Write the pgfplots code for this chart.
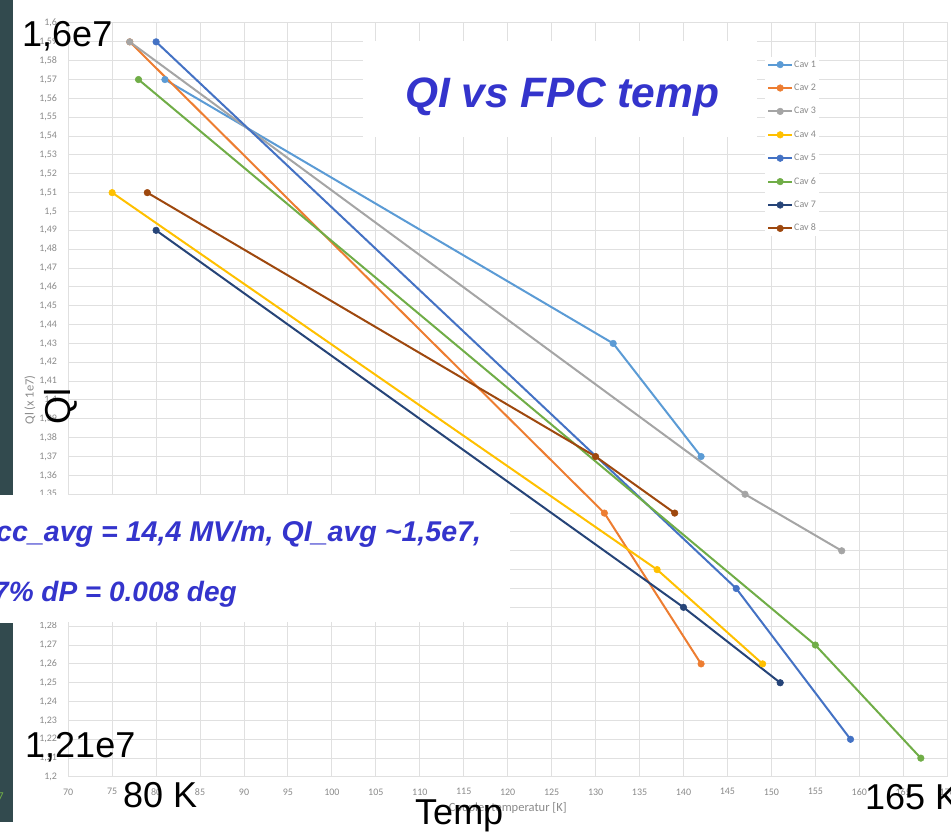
\documentclass[border=0pt]{standalone}
\usepackage{fontspec}
\setmainfont{Carlito}
\newfontfamily\arialf{Liberation Sans}
\usepackage{pgfplots}
\pgfplotsset{compat=1.18}

\definecolor{cavA}{HTML}{5B9BD5}
\definecolor{cavB}{HTML}{ED7D31}
\definecolor{cavC}{HTML}{A5A5A5}
\definecolor{cavD}{HTML}{FFC000}
\definecolor{cavE}{HTML}{4472C4}
\definecolor{cavF}{HTML}{70AD47}
\definecolor{cavG}{HTML}{264478}
\definecolor{cavH}{HTML}{9E480E}
\definecolor{gridc}{HTML}{E0E0E0}
\definecolor{lblc}{HTML}{8A8A8A}
\definecolor{bluet}{RGB}{52,52,204}
\definecolor{slide}{RGB}{50,74,78}

\begin{document}
\begin{tikzpicture}[x=1pt,y=1pt]
\useasboundingbox (0,0) rectangle (951,837);
% slide background strip on the left
\fill[slide] (0,342) rectangle (13,837);
\fill[slide] (0,15) rectangle (13,214);
\node[anchor=base east, inner sep=0pt, text=cavF, font=\fontsize{12}{12}\selectfont] at (4,36) {7};

\begin{axis}[
    at={(68.2pt,60pt)}, anchor=south west,
    scale only axis, width=879pt, height=754pt,
    xmin=70, xmax=170, ymin=1.2, ymax=1.6,
    xtick={70,75,...,170},
    ytick={1.2,1.21,...,1.601},
    grid=major,
    major grid style={draw=gridc, line width=1pt},
    axis line style={draw=gridc, line width=1pt},
    major tick length=0pt,
    /pgf/number format/assume math mode=true,
    tick label style={font=\fontsize{10}{12}\selectfont, text=lblc},
    yticklabel style={/pgf/number format/use comma, /pgf/number format/precision=2, xshift=-7.7pt},
    xticklabel style={yshift=-8pt},
    xlabel={Coupler temperatur [K]},
    ylabel={Ql (x 1e7)},
    every axis x label/.style={at={(axis description cs:0.5,-0.0411)}, anchor=center,
        font=\fontsize{12.5}{14}\selectfont, text=lblc},
    every axis y label/.style={at={(axis description cs:-0.0435,0.5)}, rotate=90, anchor=center,
        font=\fontsize{12.5}{14}\selectfont, text=lblc},
    every axis plot/.append style={line width=2pt, mark=*, mark size=3.3pt, mark options={line width=0.5pt}},
    legend cell align=left,
    legend image code/.code={\draw[#1,mark repeat=2,mark phase=2] plot coordinates {(0pt,0pt) (12pt,0pt) (24pt,0pt)};},
    legend style={at={(axis description cs:0.7927,0.955)}, anchor=north west,
        draw=none, fill=white, font=\fontsize{10}{11}\selectfont, text=lblc,
        row sep=12.4pt, inner xsep=2pt, inner ysep=2pt,
        nodes={inner sep=1pt, text height=7pt, text depth=2pt}},
]
\addplot[cavA] coordinates {(81,1.57) (132,1.43) (142,1.37)};
\addlegendentry{Cav 1}
\addplot[cavB] coordinates {(77,1.59) (131,1.34) (142,1.26)};
\addlegendentry{Cav 2}
\addplot[cavC] coordinates {(77,1.59) (147,1.35) (158,1.32)};
\addlegendentry{Cav 3}
\addplot[cavD] coordinates {(75,1.51) (137,1.31) (149,1.26)};
\addlegendentry{Cav 4}
\addplot[cavE] coordinates {(80,1.59) (146,1.30) (159,1.22)};
\addlegendentry{Cav 5}
\addplot[cavF] coordinates {(78,1.57) (155,1.27) (167,1.21)};
\addlegendentry{Cav 6}
\addplot[cavG] coordinates {(80,1.49) (140,1.29) (151,1.25)};
\addlegendentry{Cav 7}
\addplot[cavH] coordinates {(79,1.51) (130,1.37) (139,1.34)};
\addlegendentry{Cav 8}
\end{axis}

% title box
\fill[white] (363,700) rectangle (757,796);
\node[anchor=base west, inner sep=0pt, text=bluet, font=\arialf\bfseries\itshape\fontsize{42.5}{44}\selectfont] at (405,729) {QI vs FPC temp};

% lower text box
\fill[white] (0,215) rectangle (510,342);
\node[anchor=base west, inner sep=0pt, text=bluet, font=\arialf\bfseries\itshape\fontsize{28.6}{30}\selectfont] at (-4,295) {cc\_avg = 14,4 MV/m, QI\_avg \textasciitilde1,5e7,};
\node[anchor=base west, inner sep=0pt, text=bluet, font=\arialf\bfseries\itshape\fontsize{28}{30}\selectfont] at (-7,235) {7\% dP = 0.008 deg};

% large black annotations
\begin{scope}[every node/.style={inner sep=0pt, text=black, font=\arialf\fontsize{36}{38}\selectfont}]
\node[anchor=base west] at (22,790) {1,6e7};
\node[anchor=base west] at (25,79) {1,21e7};
\node[anchor=base west] at (123,29) {80 K};
\node[anchor=base west] at (865,27) {165 K};
\node[anchor=base west] at (415,12) {Temp};
\node[anchor=base west, rotate=90] at (70,412) {Ql};
\end{scope}
\end{tikzpicture}
\end{document}
